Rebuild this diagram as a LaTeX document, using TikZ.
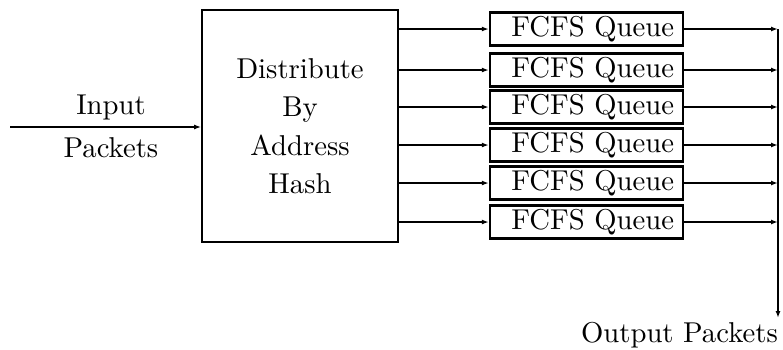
\documentclass[tikz,border=0pt]{standalone}
\usetikzlibrary{arrows.meta}
\font\bigcm="[lmroman10-regular]" at 28.7pt
\newcommand\bigtxt{\bigcm\baselineskip=38.5pt\relax}
\begin{document}
\begin{tikzpicture}[x=1pt,y=-1pt,
  txt/.style={font=\bigtxt},
  qbox/.style={draw,line width=2.4pt,minimum width=193pt,minimum height=33pt,
    text width=175pt,align=right,inner xsep=8pt,inner ysep=0pt,txt},
  arr/.style={-{Latex[length=7pt,width=5pt]}},
  thin/.style={line width=1.5pt},
  thick2/.style={line width=2.4pt}]
\useasboundingbox (0,0) rectangle (783,349);
\node[draw,line width=1.7pt,minimum width=196pt,minimum height=232pt,align=center,txt,inner sep=0pt]
  (dist) at (300,126) {Distribute\\By\\Address\\Hash};
\coordinate (in) at (10,127);
\draw[arr,thick2] (in) -- (in -| dist.west) coordinate (inend);
\node[txt,anchor=base] (inp) at (111,114) {Input};
\node[txt,anchor=base] (pk) at (111,157) {Packets};
\foreach \i/\y/\w in {1/29/thick2,2/70/thin,3/107/thin,4/145/thin,5/183/thin,6/222/thick2}{
  \node[qbox] (q\i) at (586.5,\y) {FCFS Queue};
  \coordinate (s\i) at (dist.east |- q\i.west);
  \coordinate (t\i) at (778,\y);
  \draw[arr,\w] (s\i) -- (q\i.west);
  \draw[arr,\w] (q\i.east) -- (t\i);
}
\coordinate (bot) at (778,318);
\draw[arr,line width=1.8pt] (t1) -- (bot);
\node[txt,anchor=base east,inner xsep=0pt] (out) at (778,342) {Output Packets};
\end{tikzpicture}
\end{document}
